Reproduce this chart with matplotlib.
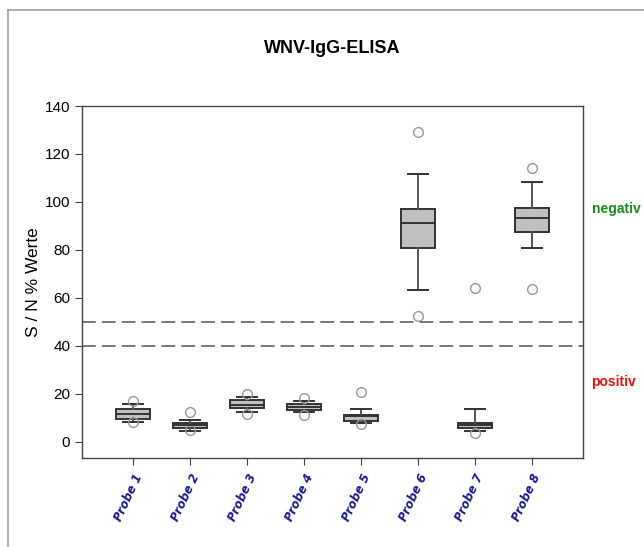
import numpy as np
import matplotlib
matplotlib.use("Agg")
import matplotlib.pyplot as plt
from matplotlib.lines import Line2D

plt.rcParams['font.family'] = ['Liberation Sans', 'DejaVu Sans']

# Box statistics (S/N % values)
probes = ['Probe 1', 'Probe 2', 'Probe 3', 'Probe 4', 'Probe 5', 'Probe 6', 'Probe 7', 'Probe 8']
whislo = [8.3, 4.7, 12.4, 12.4, 7.8, 63.3, 4.7, 80.8]
q1 = [9.7, 6.0, 14.0, 13.2, 8.9, 81.0, 5.8, 87.5]
med = [11.5, 6.9, 15.4, 14.4, 10.8, 91.2, 6.9, 93.5]
q3 = [13.9, 7.9, 17.5, 15.7, 11.4, 97.0, 8.0, 97.5]
whishi = [15.8, 9.2, 18.9, 17.2, 13.6, 111.5, 13.9, 108.5]
outliers = [[17.2, 8.2], [12.4, 5.0], [20.0, 11.5], [18.5, 11.4],
            [21.0, 7.5], [129.0, 52.5], [64.3, 3.6], [114.0, 63.9]]

cutoff_neg = 50
cutoff_pos = 40

stats = []
for i in range(len(probes)):
    stats.append(dict(label=probes[i], whislo=whislo[i], q1=q1[i], med=med[i],
                      q3=q3[i], whishi=whishi[i], fliers=outliers[i]))

fig = plt.figure(figsize=(6.44, 5.47), dpi=100)
ax = fig.add_axes([82/644, 1-458/547, (583-82)/644, (458-106)/547])

ax.bxp(stats, positions=np.arange(1, 9), widths=0.6, capwidths=0.36,
       patch_artist=True,
       boxprops=dict(facecolor='#c0c0c0', edgecolor='#333333', linewidth=1.4),
       medianprops=dict(color='#333333', linewidth=1.4),
       whiskerprops=dict(color='#555555', linewidth=1.4),
       capprops=dict(color='#333333', linewidth=1.4),
       flierprops=dict(marker='o', markerfacecolor='none', markeredgecolor='#999999',
                       markersize=7, markeredgewidth=1.0))

# cut-off lines
ax.axhline(cutoff_neg, color='#555555', lw=1.1, dashes=(9, 4))
ax.axhline(cutoff_pos, color='#555555', lw=1.1, dashes=(9, 4))

ax.set_xlim(0.1, 8.9)
ax.set_ylim(-6.67, 140)
ax.set_yticks(np.arange(0, 141, 20))
ax.set_xticks(np.arange(1, 9))
ax.set_xticklabels(probes, rotation=65, ha='right', rotation_mode='anchor',
                   color='#1a1a8c', fontsize=8.5, fontweight='bold', fontstyle='oblique',
                   family='DejaVu Sans')
ax.tick_params(axis='y', labelsize=11, direction='out', length=5, color='#444444')
ax.tick_params(axis='x', direction='out', length=5, color='#444444', pad=5)
for s in ax.spines.values():
    s.set_color('#444444')
    s.set_linewidth(1.0)

ax.set_ylabel('S / N % Werte', fontsize=12.5, labelpad=3)
ax.set_title('WNV-IgG-ELISA', fontsize=13, fontweight='bold', pad=38)

ax.text(1.017, 97, 'negativ', transform=ax.get_yaxis_transform(), color='#1a8c1a',
        fontsize=10, fontweight='bold', va='center', ha='left')
ax.text(1.017, 25, 'positiv', transform=ax.get_yaxis_transform(), color='#ee1111',
        fontsize=10, fontweight='bold', va='center', ha='left')

# outer frame
fig.add_artist(Line2D([8/644, 8/644], [0, 1-10/547], color='#a0a0a8', lw=1.2))
fig.add_artist(Line2D([8/644, 1], [1-10/547, 1-10/547], color='#a0a0a8', lw=1.2))

fig.savefig('out.png', dpi=100)
